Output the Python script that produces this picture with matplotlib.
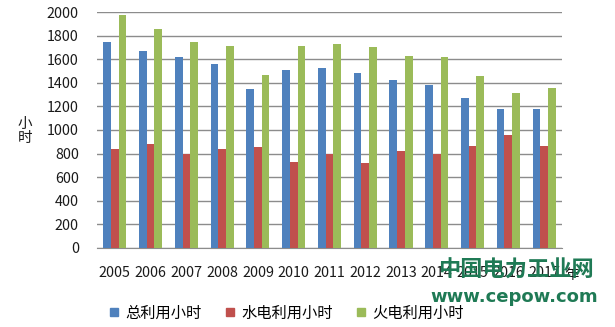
import numpy as np
import matplotlib
matplotlib.use("Agg")
import matplotlib.pyplot as plt
from matplotlib.patches import Patch

plt.rcParams['font.family'] = ['Noto Sans CJK SC', 'DejaVu Sans']

# ==============================
# Data
# ==============================
years = ['2005', '2006', '2007', '2008', '2009', '2010', '2011',
         '2012', '2013', '2014', '2015', '2016', '2017']
total_hours = [1745, 1672, 1620, 1562, 1347, 1508, 1528,
               1480, 1427, 1384, 1274, 1175, 1175]
hydro_hours = [840, 881, 800, 840, 853, 730, 800,
               720, 820, 800, 862, 960, 862]
thermal_hours = [1975, 1853, 1743, 1712, 1469, 1712, 1732,
                 1700, 1630, 1620, 1458, 1316, 1359]
series_names = ['总利用小时', '水电利用小时', '火电利用小时']
colors = ['#4F81BD', '#C0504D', '#9BBB59']

# ==============================
# Figure
# ==============================
fig = plt.figure(figsize=(6.15, 3.27), dpi=100)
ax = fig.add_axes([0.1577, 0.2416, 0.7561, 0.7217])

x = np.arange(len(years))
w = 0.215
for i, vals in enumerate([total_hours, hydro_hours, thermal_hours]):
    ax.bar(x + (i - 1) * w, vals, width=w, color=colors[i], zorder=3)

ax.set_xlim(-0.5, len(years) - 0.5)
ax.set_ylim(0, 2000)
ax.set_yticks(range(0, 2001, 200))
ax.yaxis.grid(True, color='#8c8c8c', linewidth=1, zorder=0)
ax.set_xticks(x)
ax.set_xticklabels(years)
ax.tick_params(axis='both', length=0, labelsize=10.3, colors='#1a1a1a')
ax.tick_params(axis='y', pad=13)
ax.tick_params(axis='x', pad=13)
for s in ['left', 'right', 'top']:
    ax.spines[s].set_visible(False)
ax.spines['bottom'].set_color('#8c8c8c')

# y-axis title, stacked vertically
fig.text(25 / 615, 1 - 131 / 327, '小\n时', ha='center', va='center',
         fontsize=10.5, linespacing=1.05, color='#1a1a1a')
# x-axis unit
fig.text(571 / 615, 1 - 275 / 327, '年', ha='center', va='center',
         fontsize=10.3, color='#1a1a1a')

# legend
handles = [Patch(color=c, label=n) for c, n in zip(colors, series_names)]
fig.legend(handles=handles, loc='center', bbox_to_anchor=(287 / 615, 1 - 313 / 327),
           ncol=3, frameon=False, fontsize=11, handlelength=0.5, handleheight=0.5,
           handletextpad=0.5, columnspacing=1.6, borderpad=0)

# watermark
fig.text(516 / 615, 1 - 270 / 327, '中国电力工业网', ha='center', va='center',
         fontsize=16, fontweight='bold', color='#1f7a55')
fig.text(514 / 615, 1 - 297 / 327, 'www.cepow.com', ha='center', va='center',
         fontsize=13, fontweight='bold', color='#1f7a55', family='DejaVu Sans')

fig.savefig('out.png', dpi=100)
